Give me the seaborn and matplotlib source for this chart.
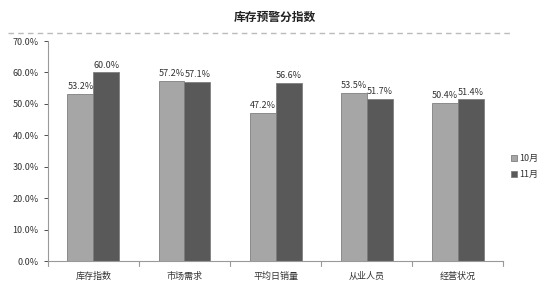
import matplotlib
matplotlib.use("Agg")
import matplotlib.pyplot as plt
import seaborn as sns
import pandas as pd
import numpy as np
from matplotlib.ticker import FuncFormatter, FixedLocator
from matplotlib.lines import Line2D

categories = ["库存指数", "市场需求", "平均日销量", "从业人员", "经营状况"]
series_names = ["10月", "11月"]
oct_values = [53.2, 57.2, 47.2, 53.5, 50.4]
nov_values = [60.0, 57.1, 56.6, 51.7, 51.4]

sns.set_theme(style="white")
plt.rcParams['font.family'] = ['Noto Sans CJK SC', 'DejaVu Sans']

df = pd.DataFrame({
    "cat": categories * 2,
    "month": [series_names[0]] * 5 + [series_names[1]] * 5,
    "val": oct_values + nov_values,
})

fig = plt.figure(figsize=(5.5, 2.95), dpi=100)
ax = fig.add_axes([0.087, 0.115, 0.828, 0.746])
palette = {"10月": "#A6A6A6", "11月": "#595959"}
sns.barplot(data=df, x="cat", y="val", hue="month", palette=palette,
            width=0.57, gap=0, ax=ax, edgecolor="#7f7f7f", linewidth=0.6,
            saturation=1, legend=True)

for cont in ax.containers:
    ax.bar_label(cont, labels=[f"{v:.1f}%" for v in cont.datavalues],
                 padding=2, fontsize=6.5, color="#333333")

ax.set_ylim(0, 70)
ax.set_xlim(-0.5, 4.5)
ax.yaxis.set_major_locator(FixedLocator(np.arange(0, 71, 10)))
ax.yaxis.set_major_formatter(FuncFormatter(lambda v, p: f"{v:.1f}%"))
ax.tick_params(axis="y", labelsize=6.5, colors="#333333", length=3, width=0.6,
               direction="out", left=True)
ax.tick_params(axis="x", labelsize=6.5, colors="#333333", length=0, pad=8)
ax.set_xticks(range(len(categories)))
ax.set_xticklabels(categories)
ax.set_xlabel("")
ax.set_ylabel("")
for s in ["top", "right"]:
    ax.spines[s].set_visible(False)
for s in ["left", "bottom"]:
    ax.spines[s].set_color("#999999")
    ax.spines[s].set_linewidth(0.8)
# category separator ticks
for xb in np.arange(-0.5, 4.6, 1.0):
    ax.plot([xb, xb], [0, -1.5], color="#999999", lw=0.8, clip_on=False)

leg = ax.legend(loc="center left", bbox_to_anchor=(1.0, 0.43), frameon=False,
                fontsize=6.5, handlelength=0.6, handleheight=0.6,
                handletextpad=0.3, labelspacing=0.8)
for t in leg.get_texts():
    t.set_color("#333333")

fig.text(0.5, 0.94, "库存预警分指数", ha="center", va="center", fontsize=8.5,
         fontweight="bold", color="#222222")
fig.add_artist(Line2D([0.015, 0.93], [0.888, 0.888], transform=fig.transFigure,
                      color="#bbbbbb", lw=1.0, linestyle=(0, (4, 3))))

fig.savefig("out.png", dpi=100)
